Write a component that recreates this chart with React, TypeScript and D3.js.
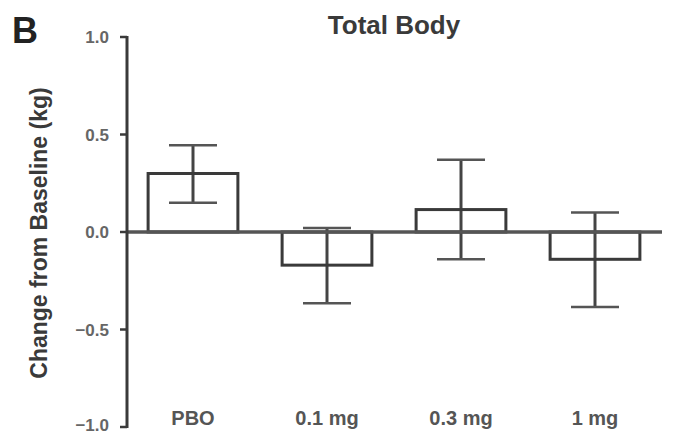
import React from "react";
import * as d3 from "d3";

const categories = ["PBO", "0.1 mg", "0.3 mg", "1 mg"];
const means = [0.3, -0.17, 0.115, -0.14];
const errHigh = [0.445, 0.02, 0.37, 0.1];
const errLow = [0.15, -0.365, -0.14, -0.385];
const yTicks = [1.0, 0.5, 0.0, -0.5, -1.0];

const W = 681;
const H = 434;

export default function App() {
  const x = d3.scalePoint<string>().domain(categories).range([126, 662]).padding(0.5);
  const y = d3.scaleLinear().domain([-1, 1]).range([427, 37]);
  const barW = x.step() * 0.67;
  const capW = 48;
  const axisX = 127;
  const font = "'Liberation Sans', Arial, sans-serif";
  const ink = "#3a3a3a";

  return (
    <svg width={W} height={H} style={{ position: "absolute", left: 0, top: 0, background: "#fff" }} fontFamily={font}>
      <rect width={W} height={H} fill="#fff" />
      <text x={12} y={43} fontSize={36} fontWeight="bold" fill="#222">B</text>
      <text x={394} y={34} fontSize={26} fontWeight="bold" fill="#3a3a3a" textAnchor="middle">Total Body</text>
      <text
        transform={`translate(47,233) rotate(-90)`}
        x={0}
        y={0}
        fontSize={23}
        fontWeight="bold"
        fill="#3a3a3a"
        textAnchor="middle"
      >
        Change from Baseline (kg)
      </text>

      {/* bars */}
      {categories.map((c, i) => {
        const cx = x(c)!;
        const v = means[i];
        const top = Math.min(y(v), y(0));
        const h = Math.abs(y(v) - y(0));
        return (
          <g key={c}>
            <line x1={cx} x2={cx} y1={y(errHigh[i])} y2={y(errLow[i])} stroke="#444" strokeWidth={3} />
            <line x1={cx - capW / 2} x2={cx + capW / 2} y1={y(errHigh[i])} y2={y(errHigh[i])} stroke="#555" strokeWidth={2.5} />
            <line x1={cx - capW / 2} x2={cx + capW / 2} y1={y(errLow[i])} y2={y(errLow[i])} stroke="#555" strokeWidth={2.5} />
            <rect x={cx - barW / 2} y={top} width={barW} height={h} fill="none" stroke="#3a3a3a" strokeWidth={3} />
          </g>
        );
      })}

      {/* zero line */}
      <line x1={axisX} x2={662} y1={y(0)} y2={y(0)} stroke="#555" strokeWidth={3.5} />

      {/* y axis */}
      <line x1={axisX} x2={axisX} y1={y(1) - 1} y2={y(-1) + 1} stroke={ink} strokeWidth={3} />
      {yTicks.map((t) => (
        <g key={t}>
          <line x1={axisX - 7} x2={axisX} y1={y(t)} y2={y(t)} stroke={ink} strokeWidth={2.5} />
          <text x={109} y={Math.min(y(t) + 6, 431)} fontSize={17} fontWeight="bold" fill="#666" textAnchor="end">
            {d3.format(".1f")(t)}
          </text>
        </g>
      ))}

      {/* x labels */}
      {categories.map((c) => (
        <text key={c} x={x(c)!} y={425} fontSize={20} fontWeight="bold" fill="#555" textAnchor="middle">
          {c}
        </text>
      ))}
    </svg>
  );
}
